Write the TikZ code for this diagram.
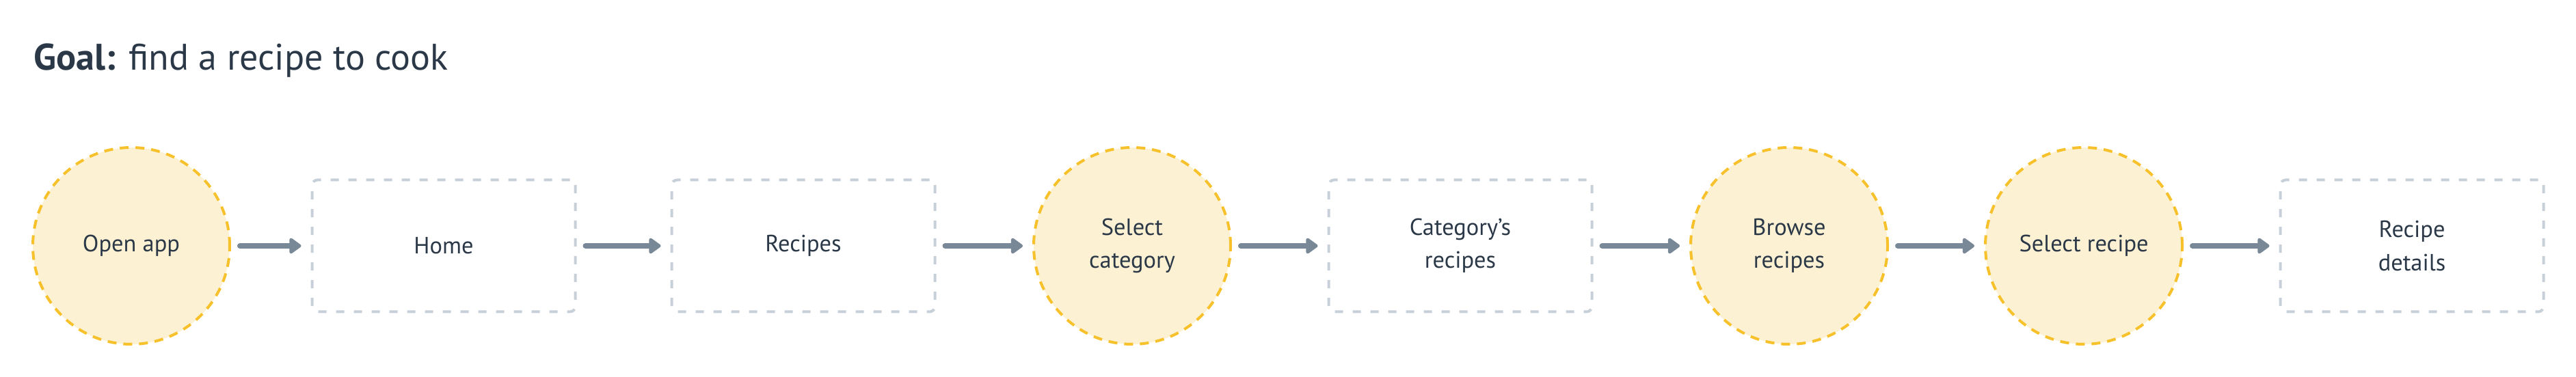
\documentclass[tikz,border=0pt]{standalone}
\usepackage{fontspec}
\setmainfont{PT Sans}
\usepackage{xcolor}
\usetikzlibrary{arrows.meta}
\definecolor{ink}{HTML}{2B3847}
\definecolor{goldline}{HTML}{F6C12A}
\definecolor{goldfill}{HTML}{FDF1D3}
\definecolor{greyline}{HTML}{C7D0D9}
\definecolor{arrowgrey}{HTML}{788896}

\begin{document}
\begin{tikzpicture}
\tikzset{>={Triangle[width=2.6mm,length=1.9mm,round]}}
\tikzstyle{action} =[circle, draw=goldline, fill=goldfill, line width=0.4mm, dash pattern=on 1.3mm off 1mm, minimum size=2.88cm, inner sep=0pt, align=center, text=ink, font=\fontsize{9.8}{13.7}\selectfont]
\tikzstyle{screen} =[rectangle, rounded corners=0.8mm, draw=greyline, line width=0.4mm, dash pattern=on 1.2mm off 1.4mm, minimum width=3.85cm, minimum height=1.93cm, inner sep=0pt, align=center, text=ink, font=\fontsize{9.8}{13.7}\selectfont]
\tikzstyle{flow} =[->, arrowgrey, line width=0.8mm, line cap=round, shorten <=1.3mm, shorten >=1.4mm]

\useasboundingbox (0,0) rectangle (37.68,5.52);

\node[anchor=base west, inner sep=0pt, text=ink, font=\fontsize{15.4}{18}\selectfont](goal) at (0.49,4.49){\textbf{Goal:} find a recipe to cook};

\node[action](v1) at (1.92,1.92){Open app};
\node[screen](v2) at (6.49,1.92){Home};
\node[screen](v3) at (11.75,1.92){Recipes};
\node[action](v4) at (16.56,1.92){Select\\category};
\node[screen](v5) at (21.36,1.92){Category’s\\recipes};
\node[action](v6) at (26.17,1.92){Browse\\recipes};
\node[action](v7) at (30.48,1.92){Select recipe};
\node[screen](v8) at (35.28,1.92){Recipe\\details};

\draw [flow] (v1) -- (v2);
\draw [flow] (v2) -- (v3);
\draw [flow] (v3) -- (v4);
\draw [flow] (v4) -- (v5);
\draw [flow] (v5) -- (v6);
\draw [flow] (v6) -- (v7);
\draw [flow] (v7) -- (v8);
\end{tikzpicture}
\end{document}
